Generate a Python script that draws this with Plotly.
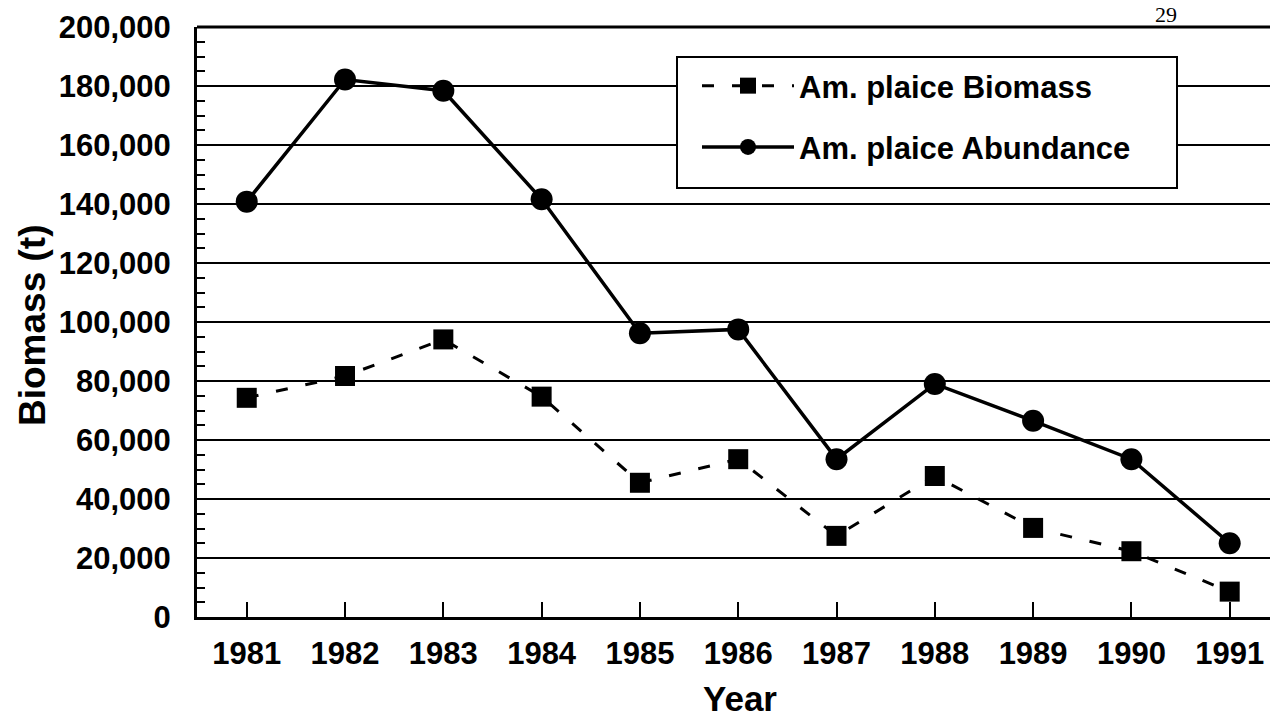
import plotly.graph_objects as go

years = [1981, 1982, 1983, 1984, 1985, 1986, 1987, 1988, 1989, 1990, 1991]
biomass = [74300, 81700, 94100, 74700, 45500, 53500, 27500, 47800, 30200, 22300, 8600]
abundance = [140800, 182200, 178400, 141600, 96200, 97500, 53500, 79000, 66500, 53500, 25000]
y_ticks = [0, 20000, 40000, 60000, 80000, 100000, 120000, 140000, 160000, 180000, 200000]

FONT = "Liberation Sans, Arial, Helvetica, sans-serif"

fig = go.Figure()
fig.add_trace(go.Scatter(
    x=years, y=biomass, name="Am. plaice Biomass", mode="lines+markers",
    line=dict(color="black", width=3, dash="12px,18px"),
    marker=dict(symbol="square", size=20, color="black"),
    legendgroup="a",
))
fig.add_trace(go.Scatter(
    x=years, y=abundance, name="Am. plaice Abundance", mode="lines+markers",
    line=dict(color="black", width=3.5),
    marker=dict(symbol="circle", size=22, color="black"),
    legendgroup="b",
))

L, T, B = 197, 27, 100
W, H = 1270, 717
pw = W - L
ph = H - T - B

def px_x(p):
    return (p - L) / pw

def px_y(p):
    return (H - B - p) / ph

fig.update_layout(
    width=W, height=H,
    margin=dict(l=L, r=0, t=T, b=B, pad=0),
    paper_bgcolor="white", plot_bgcolor="white",
    font=dict(family=FONT, color="black"),
    showlegend=True,
    legend=dict(
        x=px_x(697), y=px_y(59), xanchor="left", yanchor="top",
        bgcolor="rgba(0,0,0,0)", borderwidth=0,
        font=dict(family=FONT, size=31, color="black", weight="bold"),
        itemwidth=92, tracegroupgap=18,
    ),
    xaxis=dict(
        range=[1980.494, 1991.41],
        tickmode="array", tickvals=years, ticktext=[str(y) for y in years],
        ticks="inside", ticklen=15, tickwidth=2, tickcolor="black",
        showline=True, linecolor="black", linewidth=3,
        showgrid=False, zeroline=False,
        tickfont=dict(family=FONT, size=31, color="black", weight="bold"),
        ticklabelstandoff=7,
    ),
    yaxis=dict(
        range=[0, 200000],
        tickmode="array", tickvals=y_ticks,
        tickformat=",d",
        ticks="inside", ticklen=8, tickwidth=2, tickcolor="black",
        minor=dict(dtick=5000, ticks="inside", ticklen=8, tickwidth=2, tickcolor="black", showgrid=False),
        showline=True, linecolor="black", linewidth=3,
        showgrid=True, gridcolor="black", gridwidth=2,
        zeroline=False,
        tickfont=dict(family=FONT, size=31, color="black", weight="bold"),
        ticklabelstandoff=17,
    ),
    shapes=[
        dict(type="line", xref="paper", yref="paper", x0=0, x1=1, y0=1, y1=1,
             line=dict(color="black", width=3), layer="above"),
        dict(type="rect", xref="paper", yref="paper",
             x0=px_x(677), x1=px_x(1177), y0=px_y(188), y1=px_y(57),
             fillcolor="white", line=dict(color="black", width=2), layer="above"),
    ],
    annotations=[
        dict(text="Biomass (t)", xref="paper", yref="paper", x=px_x(32), y=px_y(326),
             textangle=-90, showarrow=False, xanchor="center", yanchor="middle",
             font=dict(family=FONT, size=37, color="black", weight="bold")),
        dict(text="Year", xref="paper", yref="paper", x=px_x(740), y=px_y(698),
             showarrow=False, xanchor="center", yanchor="middle",
             font=dict(family=FONT, size=35, color="black", weight="bold")),
        dict(text="29", xref="paper", yref="paper", x=px_x(1166), y=px_y(14),
             showarrow=False, xanchor="center", yanchor="middle",
             font=dict(family="Liberation Serif, Times New Roman, serif", size=22, color="black")),
    ],
)

fig.write_html(
    "out.html",
    config={"displayModeBar": False},
    post_script="document.body.style.margin='0';document.body.style.overflow='hidden';",
)
